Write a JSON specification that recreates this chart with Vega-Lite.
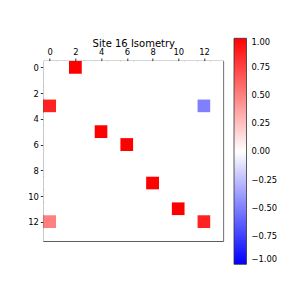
{
  "$schema": "https://vega.github.io/schema/vega-lite/v6.json",
  "width": 180,
  "height": 180,
  "autosize": {"type": "none"},
  "padding": {"left": 43.3, "top": 61, "right": 66.7, "bottom": 49},
  "background": "white",
  "config": {
    "view": {"stroke": "#000000", "strokeWidth": 0.8},
    "font": "DejaVu Sans"
  },
  "data": {"values": [
    {"r":0,"c":0,"v":0},{"r":0,"c":1,"v":0},{"r":0,"c":2,"v":1},{"r":0,"c":3,"v":0},{"r":0,"c":4,"v":0},{"r":0,"c":5,"v":0},{"r":0,"c":6,"v":0},{"r":0,"c":7,"v":0},{"r":0,"c":8,"v":0},{"r":0,"c":9,"v":0},{"r":0,"c":10,"v":0},{"r":0,"c":11,"v":0},{"r":0,"c":12,"v":0},{"r":0,"c":13,"v":0},
    {"r":1,"c":0,"v":0},{"r":1,"c":1,"v":0},{"r":1,"c":2,"v":0},{"r":1,"c":3,"v":0},{"r":1,"c":4,"v":0},{"r":1,"c":5,"v":0},{"r":1,"c":6,"v":0},{"r":1,"c":7,"v":0},{"r":1,"c":8,"v":0},{"r":1,"c":9,"v":0},{"r":1,"c":10,"v":0},{"r":1,"c":11,"v":0},{"r":1,"c":12,"v":0},{"r":1,"c":13,"v":0},
    {"r":2,"c":0,"v":0},{"r":2,"c":1,"v":0},{"r":2,"c":2,"v":0},{"r":2,"c":3,"v":0},{"r":2,"c":4,"v":0},{"r":2,"c":5,"v":0},{"r":2,"c":6,"v":0},{"r":2,"c":7,"v":0},{"r":2,"c":8,"v":0},{"r":2,"c":9,"v":0},{"r":2,"c":10,"v":0},{"r":2,"c":11,"v":0},{"r":2,"c":12,"v":0},{"r":2,"c":13,"v":0},
    {"r":3,"c":0,"v":0.866},{"r":3,"c":1,"v":0},{"r":3,"c":2,"v":0},{"r":3,"c":3,"v":0},{"r":3,"c":4,"v":0},{"r":3,"c":5,"v":0},{"r":3,"c":6,"v":0},{"r":3,"c":7,"v":0},{"r":3,"c":8,"v":0},{"r":3,"c":9,"v":0},{"r":3,"c":10,"v":0},{"r":3,"c":11,"v":0},{"r":3,"c":12,"v":-0.5},{"r":3,"c":13,"v":0},
    {"r":4,"c":0,"v":0},{"r":4,"c":1,"v":0},{"r":4,"c":2,"v":0},{"r":4,"c":3,"v":0},{"r":4,"c":4,"v":0},{"r":4,"c":5,"v":0},{"r":4,"c":6,"v":0},{"r":4,"c":7,"v":0},{"r":4,"c":8,"v":0},{"r":4,"c":9,"v":0},{"r":4,"c":10,"v":0},{"r":4,"c":11,"v":0},{"r":4,"c":12,"v":0},{"r":4,"c":13,"v":0},
    {"r":5,"c":0,"v":0},{"r":5,"c":1,"v":0},{"r":5,"c":2,"v":0},{"r":5,"c":3,"v":0},{"r":5,"c":4,"v":1},{"r":5,"c":5,"v":0},{"r":5,"c":6,"v":0},{"r":5,"c":7,"v":0},{"r":5,"c":8,"v":0},{"r":5,"c":9,"v":0},{"r":5,"c":10,"v":0},{"r":5,"c":11,"v":0},{"r":5,"c":12,"v":0},{"r":5,"c":13,"v":0},
    {"r":6,"c":0,"v":0},{"r":6,"c":1,"v":0},{"r":6,"c":2,"v":0},{"r":6,"c":3,"v":0},{"r":6,"c":4,"v":0},{"r":6,"c":5,"v":0},{"r":6,"c":6,"v":1},{"r":6,"c":7,"v":0},{"r":6,"c":8,"v":0},{"r":6,"c":9,"v":0},{"r":6,"c":10,"v":0},{"r":6,"c":11,"v":0},{"r":6,"c":12,"v":0},{"r":6,"c":13,"v":0},
    {"r":7,"c":0,"v":0},{"r":7,"c":1,"v":0},{"r":7,"c":2,"v":0},{"r":7,"c":3,"v":0},{"r":7,"c":4,"v":0},{"r":7,"c":5,"v":0},{"r":7,"c":6,"v":0},{"r":7,"c":7,"v":0},{"r":7,"c":8,"v":0},{"r":7,"c":9,"v":0},{"r":7,"c":10,"v":0},{"r":7,"c":11,"v":0},{"r":7,"c":12,"v":0},{"r":7,"c":13,"v":0},
    {"r":8,"c":0,"v":0},{"r":8,"c":1,"v":0},{"r":8,"c":2,"v":0},{"r":8,"c":3,"v":0},{"r":8,"c":4,"v":0},{"r":8,"c":5,"v":0},{"r":8,"c":6,"v":0},{"r":8,"c":7,"v":0},{"r":8,"c":8,"v":0},{"r":8,"c":9,"v":0},{"r":8,"c":10,"v":0},{"r":8,"c":11,"v":0},{"r":8,"c":12,"v":0},{"r":8,"c":13,"v":0},
    {"r":9,"c":0,"v":0},{"r":9,"c":1,"v":0},{"r":9,"c":2,"v":0},{"r":9,"c":3,"v":0},{"r":9,"c":4,"v":0},{"r":9,"c":5,"v":0},{"r":9,"c":6,"v":0},{"r":9,"c":7,"v":0},{"r":9,"c":8,"v":1},{"r":9,"c":9,"v":0},{"r":9,"c":10,"v":0},{"r":9,"c":11,"v":0},{"r":9,"c":12,"v":0},{"r":9,"c":13,"v":0},
    {"r":10,"c":0,"v":0},{"r":10,"c":1,"v":0},{"r":10,"c":2,"v":0},{"r":10,"c":3,"v":0},{"r":10,"c":4,"v":0},{"r":10,"c":5,"v":0},{"r":10,"c":6,"v":0},{"r":10,"c":7,"v":0},{"r":10,"c":8,"v":0},{"r":10,"c":9,"v":0},{"r":10,"c":10,"v":0},{"r":10,"c":11,"v":0},{"r":10,"c":12,"v":0},{"r":10,"c":13,"v":0},
    {"r":11,"c":0,"v":0},{"r":11,"c":1,"v":0},{"r":11,"c":2,"v":0},{"r":11,"c":3,"v":0},{"r":11,"c":4,"v":0},{"r":11,"c":5,"v":0},{"r":11,"c":6,"v":0},{"r":11,"c":7,"v":0},{"r":11,"c":8,"v":0},{"r":11,"c":9,"v":0},{"r":11,"c":10,"v":1},{"r":11,"c":11,"v":0},{"r":11,"c":12,"v":0},{"r":11,"c":13,"v":0},
    {"r":12,"c":0,"v":0.5},{"r":12,"c":1,"v":0},{"r":12,"c":2,"v":0},{"r":12,"c":3,"v":0},{"r":12,"c":4,"v":0},{"r":12,"c":5,"v":0},{"r":12,"c":6,"v":0},{"r":12,"c":7,"v":0},{"r":12,"c":8,"v":0},{"r":12,"c":9,"v":0},{"r":12,"c":10,"v":0},{"r":12,"c":11,"v":0},{"r":12,"c":12,"v":0.866},{"r":12,"c":13,"v":0},
    {"r":13,"c":0,"v":0},{"r":13,"c":1,"v":0},{"r":13,"c":2,"v":0},{"r":13,"c":3,"v":0},{"r":13,"c":4,"v":0},{"r":13,"c":5,"v":0},{"r":13,"c":6,"v":0},{"r":13,"c":7,"v":0},{"r":13,"c":8,"v":0},{"r":13,"c":9,"v":0},{"r":13,"c":10,"v":0},{"r":13,"c":11,"v":0},{"r":13,"c":12,"v":0},{"r":13,"c":13,"v":0}
  ]},
  "mark": {"type": "square", "filled": true, "size": 166, "strokeWidth": 0, "opacity": 1},
  "encoding": {
    "x": {
      "field": "c", "type": "quantitative",
      "scale": {"domain": [-0.5, 13.5], "nice": false, "zero": false},
      "axis": {
        "orient": "top", "values": [0, 2, 4, 6, 8, 10, 12], "grid": false, "domain": false,
        "tickColor": "#000000", "tickSize": 3, "tickWidth": 0.8,
        "labelFontSize": 8.4, "labelColor": "#000000", "labelPadding": 2, "labelFont": "DejaVu Sans",
        "title": "Site 16 Isometry", "titleFontSize": 10, "titleFontWeight": "normal", "titleColor": "#000000",
        "titleFont": "DejaVu Sans", "titleX": 90, "titleY": -15, "titleBaseline": "alphabetic", "titleAlign": "center", "titleAnchor": null
      }
    },
    "y": {
      "field": "r", "type": "quantitative",
      "scale": {"domain": [-0.5, 13.5], "nice": false, "zero": false, "reverse": true},
      "axis": {
        "orient": "left", "values": [0, 2, 4, 6, 8, 10, 12], "grid": false, "domain": false,
        "tickColor": "#000000", "tickSize": 3, "tickWidth": 0.8,
        "labelFontSize": 8.4, "labelColor": "#000000", "labelPadding": 2, "labelFont": "DejaVu Sans",
        "title": null
      }
    },
    "color": {
      "field": "v", "type": "quantitative",
      "scale": {"domain": [-1, 0, 1], "range": ["#0000ff", "#ffffff", "#ff0000"], "interpolate": "rgb"},
      "legend": {
        "orient": "none", "legendX": 190.7, "legendY": -22.7, "direction": "vertical",
        "gradientLength": 226, "gradientThickness": 12.5,
        "gradientStrokeColor": "#333333", "gradientStrokeWidth": 0.8,
        "title": null, "padding": 0,
        "values": [-1, -0.75, -0.5, -0.25, 0, 0.25, 0.5, 0.75, 1],
        "format": ".2f", "labelFontSize": 8.4, "labelColor": "#000000", "labelFont": "DejaVu Sans",
        "labelOffset": 5, "labelOverlap": false
      }
    }
  }
}
